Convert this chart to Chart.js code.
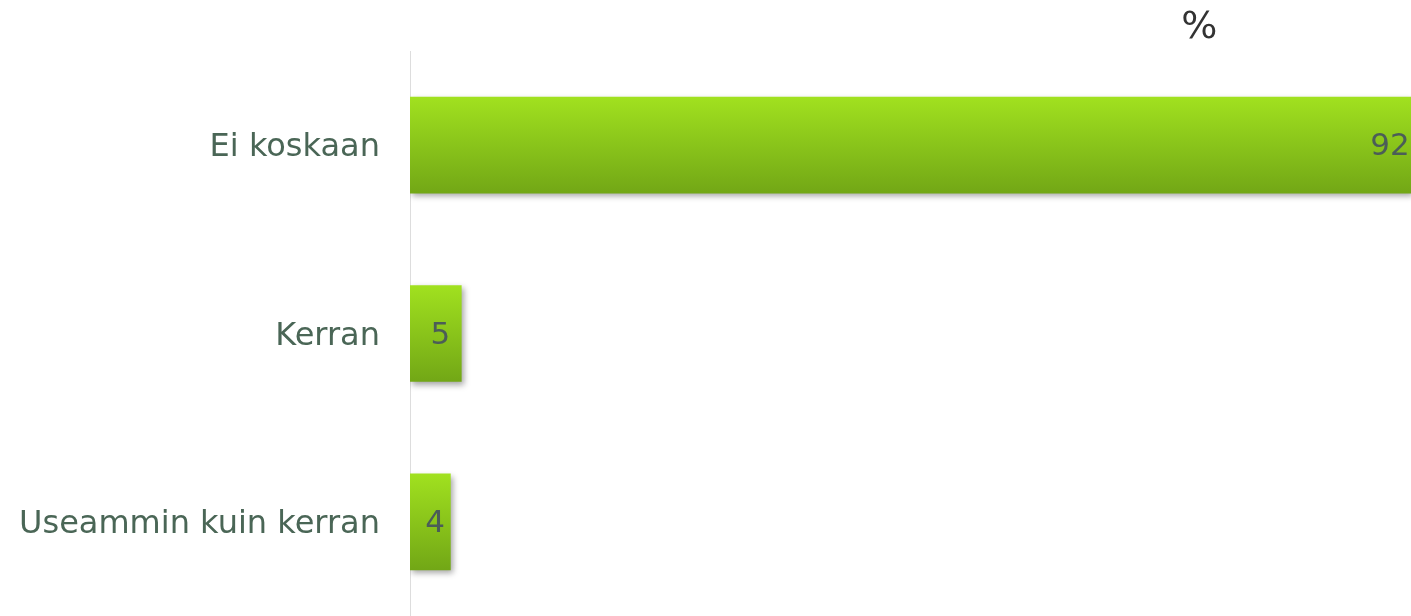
<!DOCTYPE html>
<html>
<head>
<meta charset="utf-8">
<script src="https://cdn.jsdelivr.net/npm/chart.js@4"></script>
<style>
  html, body { margin: 0; padding: 0; background: #fff; overflow: hidden; }
  canvas { display: block; }
</style>
</head>
<body>
<canvas id="kaavio" width="1411" height="616"></canvas>
<script>
// Vastausvaihtoehdot ja osuudet (%), palkkien pituuksista arvioituna
const kategoriat = ['Ei koskaan', 'Kerran', 'Useammin kuin kerran'];
const osuudet = [91.7, 4.7, 3.7];
const otsikko = '%';

const fontti = '"DejaVu Sans", Verdana, sans-serif';
const paksuus = 96;

// Liukuväri jokaiselle palkille erikseen
function liukuvari(ctx) {
  const chart = ctx.chart;
  const y = chart.scales.y;
  if (!y || ctx.dataIndex === undefined) return '#8cc81c';
  const yc = y.getPixelForValue(ctx.dataIndex);
  if (!isFinite(yc)) return '#8cc81c';
  const g = chart.ctx.createLinearGradient(0, yc - paksuus / 2, 0, yc + paksuus / 2);
  g.addColorStop(0, '#a1e11f');
  g.addColorStop(1, '#72a716');
  return g;
}

// Varjo palkkien alle
const varjo = {
  id: 'varjo',
  beforeDatasetsDraw(chart) {
    const c = chart.ctx;
    c.save();
    c.shadowColor = 'rgba(0,0,0,0.35)';
    c.shadowBlur = 6;
    c.shadowOffsetX = 2;
    c.shadowOffsetY = 3;
  },
  afterDatasetsDraw(chart) {
    chart.ctx.restore();
  }
};

// Arvot palkkien sisään ja otsikko
const arvot = {
  id: 'arvot',
  afterDraw(chart) {
    const c = chart.ctx;
    const meta = chart.getDatasetMeta(0);
    const alku = chart.scales.x.getPixelForValue(0);
    c.save();
    c.font = '31px ' + fontti;
    c.fillStyle = '#4b5d58';
    c.textAlign = 'center';
    c.textBaseline = 'middle';
    meta.data.forEach((bar, i) => {
      const keski = Math.max(bar.x - 21, alku + 25);
      c.fillText(String(Math.round(osuudet[i])), keski, bar.y + 2);
    });
    c.font = '38px ' + fontti;
    c.fillStyle = '#333';
    c.fillText(otsikko, chart.width * 0.85, 28);
    c.restore();
  }
};

new Chart(document.getElementById('kaavio'), {
  type: 'bar',
  data: {
    labels: kategoriat,
    datasets: [{
      data: osuudet,
      backgroundColor: liukuvari,
      borderWidth: 0,
      barThickness: paksuus
    }]
  },
  options: {
    indexAxis: 'y',
    responsive: false,
    animation: false,
    layout: { padding: { top: 51, right: 0, bottom: 0, left: 0 } },
    plugins: {
      legend: { display: false },
      tooltip: { enabled: false }
    },
    scales: {
      x: {
        display: false,
        min: 0,
        max: 91.7
      },
      y: {
        grid: { display: false },
        border: { display: true, color: '#dddddd', width: 1 },
        ticks: {
          padding: 22,
          labelOffset: 3,
          color: '#4a6656',
          font: { family: fontti, size: 32 }
        },
        afterFit(scale) {
          scale.width = 410;
          scale.paddingTop = 0;
          scale.paddingBottom = 0;
        }
      }
    }
  },
  plugins: [varjo, arvot]
});
</script>
</body>
</html>
